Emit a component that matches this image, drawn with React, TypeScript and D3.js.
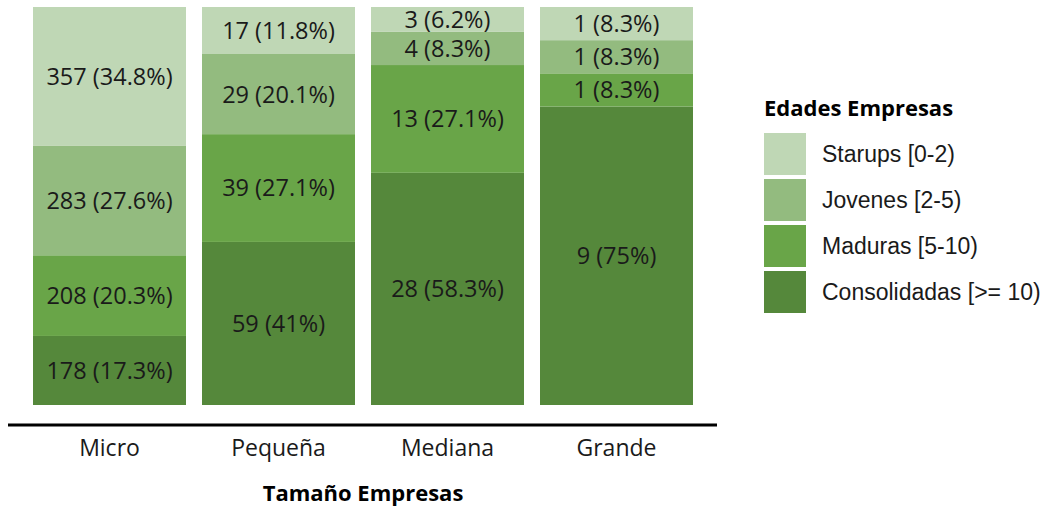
import React from "react";
import * as d3 from "d3";

const categories = ["Micro", "Pequeña", "Mediana", "Grande"];
const seriesNames = ["Consolidadas [>= 10)", "Maduras [5-10)", "Jovenes [2-5)", "Starups [0-2)"];
const consolidadas = [178, 59, 28, 9];
const maduras = [208, 39, 13, 1];
const jovenes = [283, 29, 4, 1];
const starups = [357, 17, 3, 1];
const colors = ["#55883b", "#69a548", "#93bb7f", "#bfd7b5"];
const xTitle = "Tamaño Empresas";
const legendTitle = "Edades Empresas";

const W = 1046;
const H = 508;

function roundHalfEven1(v: number): number {
  const x = Math.round(v * 1e6) / 1e6 * 10;
  const f = Math.floor(x);
  const diff = x - f;
  let r: number;
  if (Math.abs(diff - 0.5) < 1e-9) r = f % 2 === 0 ? f : f + 1;
  else r = Math.round(x);
  return r / 10;
}

export default function App() {
  const series = [consolidadas, maduras, jovenes, starups];
  const totals = categories.map((_, i) => d3.sum(series, (s) => s[i]));
  const rows = categories.map((c, i) => {
    const o: any = { cat: c };
    series.forEach((s, k) => (o["k" + k] = s[i] / totals[i]));
    return o;
  });
  const keys = series.map((_, k) => "k" + k);
  const stacked = d3.stack<any>().keys(keys)(rows);

  const x = d3
    .scaleBand<string>()
    .domain(categories)
    .range([25, 701])
    .paddingInner(16 / 169)
    .paddingOuter(8 / 169);
  const y = d3.scaleLinear().domain([0, 1]).range([405, 7]);

  const labelFont = "'Open Sans', sans-serif";
  const legendY0 = 133;
  const legendStep = 46;
  const legendOrder = [3, 2, 1, 0];

  return (
    <svg
      width={W}
      height={H}
      style={{ position: "absolute", left: 0, top: 0, background: "#fff" }}
    >
      {stacked.map((layer, k) => (
        <g key={k}>
          {layer.map((d, i) => {
            const y0 = y(d[1]);
            const y1 = y(d[0]);
            const val = series[k][i];
            const pct = roundHalfEven1((val / totals[i]) * 100);
            const label = `${val} (${pct}%)`;
            return (
              <g key={i}>
                <rect
                  x={x(categories[i])}
                  y={y0}
                  width={x.bandwidth()}
                  height={y1 - y0}
                  fill={colors[k]}
                />
                <text
                  x={(x(categories[i]) as number) + x.bandwidth() / 2}
                  y={(y0 + y1) / 2}
                  dy="0.36em"
                  textAnchor="middle"
                  fontFamily={labelFont}
                  fontSize={23.5}
                  fill="#1a1a1a"
                >
                  {label}
                </text>
              </g>
            );
          })}
        </g>
      ))}
      <line x1={8} x2={717} y1={425} y2={425} stroke="#000" strokeWidth={2.8} />
      {categories.map((c) => (
        <text
          key={c}
          x={(x(c) as number) + x.bandwidth() / 2}
          y={448}
          dy="0.36em"
          textAnchor="middle"
          fontFamily={labelFont}
          fontSize={23}
          fill="#1a1a1a"
        >
          {c}
        </text>
      ))}
      <text
        x={363}
        y={493}
        dy="0.36em"
        textAnchor="middle"
        fontFamily={labelFont}
        fontWeight="bold"
        fontSize={22}
        fill="#000"
      >
        {xTitle}
      </text>
      <text
        x={764}
        y={108}
        dy="0.36em"
        fontFamily={labelFont}
        fontWeight="bold"
        fontSize={22}
        fill="#000"
      >
        {legendTitle}
      </text>
      {legendOrder.map((k, j) => (
        <g key={k}>
          <rect x={764} y={legendY0 + j * legendStep} width={42} height={42} fill={colors[k]} />
          <text
            x={822}
            y={legendY0 + j * legendStep + 21}
            dy="0.36em"
            fontFamily="'Liberation Sans', Arial, sans-serif"
            fontSize={23}
            fill="#1a1a1a"
          >
            {seriesNames[k]}
          </text>
        </g>
      ))}
    </svg>
  );
}
